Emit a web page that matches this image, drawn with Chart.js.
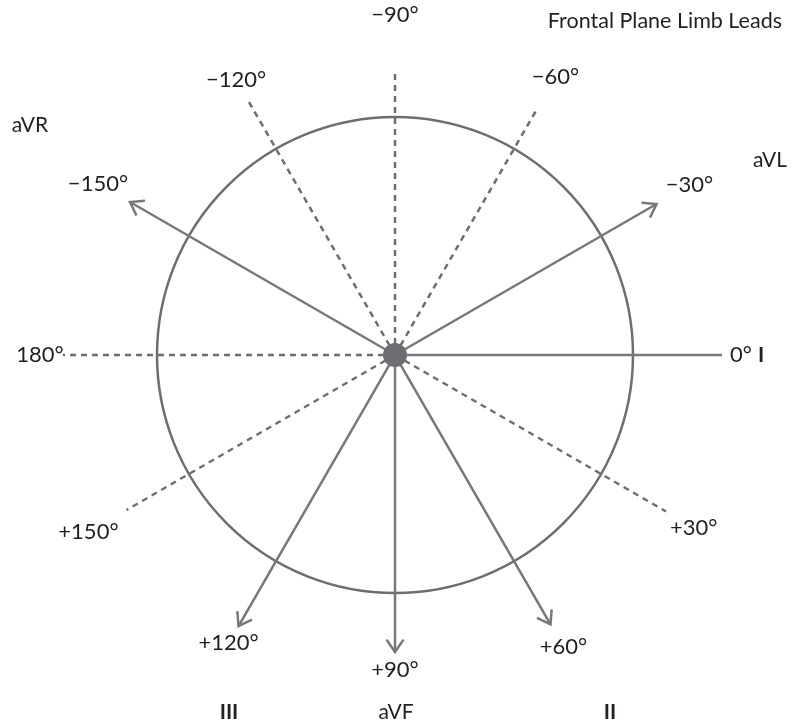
<!DOCTYPE html>
<html>
<head>
<meta charset="utf-8">
<script src="https://cdn.jsdelivr.net/npm/chart.js@4.4.1/dist/chart.umd.min.js"></script>
<style>
  html, body { margin: 0; padding: 0; background: #ffffff; }
  #wrap { position: relative; width: 799px; height: 721px; }
</style>
</head>
<body>
<div id="wrap"><canvas id="hexaxial"></canvas></div>
<script>
// Hexaxial reference system - frontal plane limb leads
// angles in ECG convention: 0 = right, positive = clockwise (downward)
const leadAngles = [0, -30, -60, -90, -120, -150, 180, 150, 120, 90, 60, 30];
const angleLabels = ['0°', '−30°', '−60°', '−90°', '−120°', '−150°', '180°', '+150°', '+120°', '+90°', '+60°', '+30°'];
const lineLengths = [327, 302, 283, 283, 295, 306, 332, 310, 313, 297, 311, 313];
const isSolid = [true, true, false, false, false, true, false, false, true, true, true, false];
const hasArrow = [false, true, false, false, false, true, false, false, true, true, true, false];
const circleRadius = 238;

const leadNames = ['I', 'aVL', 'aVR', 'III', 'aVF', 'II'];
const titleText = 'Frontal Plane Limb Leads';

// layout (chart units, centre of diagram at 0,0)
const labelRadius = [346, 340, 321, 340, 318, 343, 355, 354, 333, 315, 337, 345];
const leadNamePos = [[366, 0], [375, 195], [-365, 230], [-166, -357], [1, -357], [215, -357]];
const leadNameBold = [true, false, false, true, false, true];

const colors = {
  line: '#6d6e71',
  arrow: '#77787b',
  text: '#231f20'
};
const font = "Lato, 'Open Sans', sans-serif";

function polar(r, deg) {
  const a = deg * Math.PI / 180;
  return { x: r * Math.cos(a), y: -r * Math.sin(a) };
}

const datasets = leadAngles.map((ang, i) => ({
  data: [{ x: 0, y: 0 }, polar(lineLengths[i], ang)],
  showLine: true,
  borderColor: isSolid[i] ? colors.arrow : colors.line,
  borderWidth: 2.5,
  borderDash: isSolid[i] ? [] : [6, 5],
  pointRadius: 0
}));

datasets.push({
  data: [{ x: 0, y: 0 }],
  pointRadius: 12,
  pointBackgroundColor: colors.line,
  pointBorderWidth: 0,
  order: -1
});

// circle under the lines
const circlePlugin = {
  id: 'circle',
  beforeDatasetsDraw(chart) {
    const { ctx, scales: { x, y } } = chart;
    const cx = x.getPixelForValue(0);
    const cy = y.getPixelForValue(0);
    const r = x.getPixelForValue(circleRadius) - cx;
    ctx.save();
    ctx.strokeStyle = colors.line;
    ctx.lineWidth = 2.5;
    ctx.beginPath();
    ctx.arc(cx, cy, r, 0, Math.PI * 2);
    ctx.stroke();
    ctx.restore();
  }
};

// arrow heads, angle labels, lead names, title
const annotatePlugin = {
  id: 'annotate',
  afterDatasetsDraw(chart) {
    const { ctx, scales: { x, y } } = chart;
    const cx = x.getPixelForValue(0);
    const cy = y.getPixelForValue(0);
    ctx.save();

    // arrow heads
    ctx.strokeStyle = colors.arrow;
    ctx.lineWidth = 2.5;
    leadAngles.forEach((ang, i) => {
      if (!hasArrow[i]) return;
      const end = polar(lineLengths[i], ang);
      const tx = x.getPixelForValue(end.x);
      const ty = y.getPixelForValue(end.y);
      const dir = Math.atan2(ty - cy, tx - cx);
      const len = 15, spread = 0.6;
      ctx.beginPath();
      ctx.moveTo(tx - len * Math.cos(dir - spread), ty - len * Math.sin(dir - spread));
      ctx.lineTo(tx, ty);
      ctx.lineTo(tx - len * Math.cos(dir + spread), ty - len * Math.sin(dir + spread));
      ctx.stroke();
    });

    // angle labels
    ctx.fillStyle = colors.text;
    ctx.textAlign = 'center';
    ctx.textBaseline = 'middle';
    ctx.font = '22px ' + font;
    leadAngles.forEach((ang, i) => {
      const p = polar(labelRadius[i], ang);
      ctx.fillText(angleLabels[i], x.getPixelForValue(p.x), y.getPixelForValue(p.y));
    });

    // lead names
    leadNames.forEach((name, i) => {
      ctx.font = (leadNameBold[i] ? 'bold 21px ' : '21px ') + font;
      ctx.fillText(name, x.getPixelForValue(leadNamePos[i][0]), y.getPixelForValue(leadNamePos[i][1]));
    });

    // title
    ctx.font = '21.5px ' + font;
    ctx.textAlign = 'right';
    ctx.fillText(titleText, chart.chartArea.right - 17, chart.chartArea.top + 21);

    ctx.restore();
  }
};

new Chart(document.getElementById('hexaxial'), {
  type: 'scatter',
  data: { datasets },
  options: {
    responsive: true,
    maintainAspectRatio: false,
    animation: false,
    layout: { padding: 0, autoPadding: false },
    plugins: {
      legend: { display: false },
      tooltip: { enabled: false }
    },
    scales: {
      x: { type: 'linear', min: -395, max: 404, display: false },
      y: { type: 'linear', min: -366, max: 355, display: false }
    }
  },
  plugins: [circlePlugin, annotatePlugin]
});
</script>
</body>
</html>
